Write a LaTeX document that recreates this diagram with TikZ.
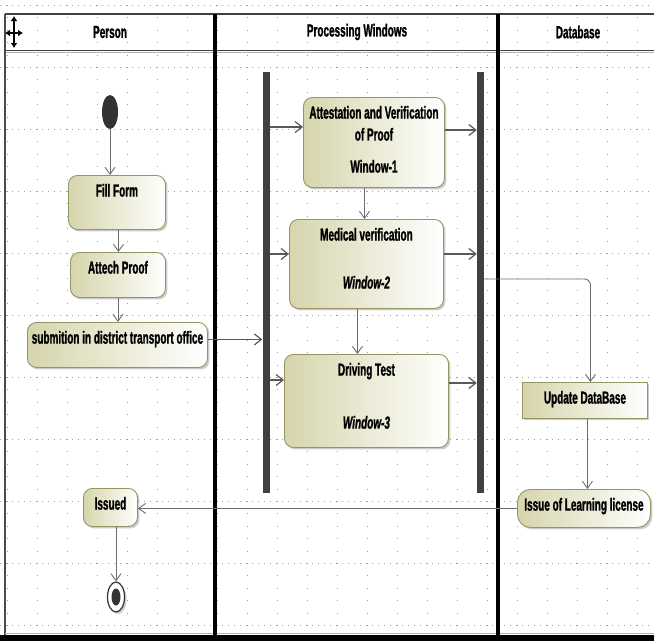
\documentclass[tikz,border=0pt]{standalone}
\usepackage{fontspec}
\newfontfamily\labfont[FakeStretch=0.57,FakeBold=1.2]{Liberation Sans}
\usetikzlibrary{arrows.meta,shadows,shapes.geometric,calc}
\definecolor{actfill}{RGB}{214,213,172}
\definecolor{actline}{RGB}{150,148,100}
\definecolor{bargray}{RGB}{64,64,64}
\definecolor{gridgray}{RGB}{160,160,160}
\definecolor{flowgray}{RGB}{110,110,110}
\newcommand\lbl{\labfont\bfseries\fontsize{17.5}{19}\selectfont}
\newcommand\tbox[3]{\parbox[c][#2pt][t]{#1pt}{\centering\lbl\vspace*{8.5pt}#3\par}}
\tikzset{
  act/.style={draw=actline, line width=0.9pt, left color=actfill, right color=white,
    rounded corners=9pt, inner sep=0pt, anchor=north west,
    drop shadow={shadow xshift=2pt, shadow yshift=-2pt, fill=black!40, opacity=0.5}},
  barnode/.style={fill=bargray, draw=none, inner sep=0pt, minimum width=7pt, minimum height=421pt},
  hdr/.style={font=\lbl, inner sep=1pt},
  arr/.style={draw=flowgray, line width=0.9pt, -{Straight Barb[length=7pt,width=10pt]}},
  barr/.style={draw=black!65, line width=1.8pt, -{Straight Barb[length=7pt,width=11pt,line width=1.2pt]}},
  hgrid/.style={draw=gridgray, line width=0.6pt, dash pattern=on 0.8pt off 5.2pt},
  vgrid/.style={draw=gridgray, line width=0.7pt, dash pattern=on 1pt off 11.4pt},
}
\begin{document}
\begin{tikzpicture}[x=1pt,y=-1pt]
\useasboundingbox (0,0) rectangle (654,641);
% grid
\foreach \k in {0,...,10} \draw[hgrid] (0,{5+62*\k}) -- (654,{5+62*\k});
\foreach \k in {0,...,21} \draw[vgrid] ({7+30*\k},5) -- ({7+30*\k},635);
% swimlane frame
\draw[line width=1.5pt, black!75] (5,14) -- (654,14);
\draw[line width=1.5pt, black!75] (5,50.5) -- (654,50.5);
\draw[line width=0.8pt, black!30] (5,52.5) -- (654,52.5);
\draw[line width=1.5pt, black!70] (5,14) -- (5,635);
\draw[line width=0.8pt, black!30] (5,633) -- (654,633);
\draw[line width=4pt] (215,14) -- (215,637);
\draw[line width=4pt] (498,14) -- (498,637);
\fill (0,635) rectangle (654,641);
% move icon
\draw[line width=2pt, {Latex[length=5pt,width=7pt]}-{Latex[length=5pt,width=7pt]}] (14,16) -- (14,48);
\draw[line width=2pt, {Latex[length=5pt,width=7pt]}-{Latex[length=5pt,width=7pt]}] (5,33) -- (23,33);
% headers
\node[hdr] (hperson) at (110,32) {Person};
\node[hdr] (hproc) at (357,32) {Processing Windows};
\node[hdr] (hdb) at (578,32) {Database};
% nodes
\node[ellipse, fill=black!80, minimum width=16pt, minimum height=34pt, inner sep=0pt] (init) at (110,112) {};
\node[act] (ff) at (68,175) {\tbox{97}{54}{Fill Form}};
\node[act] (ap) at (70,252) {\tbox{95}{45}{Attech Proof}};
\node[act] (sub) at (27,322) {\tbox{180}{45}{submition in district transport office}};
\node[barnode] (fork) at (266,282.5) {};
\node[barnode] (join) at (480.5,282.5) {};
\node[act] (att) at (303,97) {\tbox{141}{90}{Attestation and Verification\\[3pt]of Proof\\[13pt]Window-1}};
\node[act] (med) at (289,219) {\tbox{154}{89}{Medical verification\\[29pt]\textit{Window-2}}};
\node[act] (drv) at (284,354) {\tbox{164}{93}{Driving Test\\[34pt]\textit{Window-3}}};
\node[act, rounded corners=0pt] (upd) at (522,382) {\tbox{125}{36}{Update DataBase}};
\node[act, rounded corners=13pt] (iss) at (517,489) {\tbox{133}{38}{Issue of Learning license}};
\node[act] (isd) at (83,488) {\tbox{54}{38}{Issued}};
\node[ellipse, draw=black!80, line width=1.2pt, fill=white, minimum width=17pt, minimum height=30pt, inner sep=0pt,
  drop shadow={shadow xshift=2pt, shadow yshift=-2pt, fill=black!40, opacity=0.5}] (fin) at (116,597) {};
\node[ellipse, fill=black!80, minimum width=9pt, minimum height=17pt, inner sep=0pt] (finin) at (fin) {};
% attachment points
\coordinate (attin) at ([yshift=-30pt]att.north west);
\coordinate (attout) at ([yshift=-33pt]att.north east);
\coordinate (medin) at ([yshift=-35pt]med.north west);
\coordinate (medout) at ([yshift=-35pt]med.north east);
\coordinate (drvin) at ([yshift=-26pt]drv.north west);
\coordinate (drvout) at ([yshift=-29pt]drv.north east);
% connectors
\draw[arr] (init) -- (init |- ff.north);
\draw[arr] ([xshift=1.5pt]ff.south) -- ([xshift=1.5pt]ff.south |- ap.north);
\draw[arr] (ap.south) -- (ap.south |- sub.north);
\draw[barr] ([yshift=5.5pt]sub.east) -- ([yshift=5.5pt]sub.east -| fork.west);
\draw[barr] (fork.east |- attin) -- (attin);
\draw[barr] (attout) -- (attout -| join.west);
\draw[barr] (fork.east |- medin) -- (medin);
\draw[barr] (medout) -- (medout -| join.west);
\draw[barr] (fork.east |- drvin) -- (drvin);
\draw[barr] (drvout) -- (drvout -| join.west);
\draw[arr] ([xshift=-9.5pt]att.south) -- ([xshift=-9.5pt]att.south |- med.north);
\draw[arr] ([xshift=-9pt]med.south) -- ([xshift=-9pt]med.south |- drv.north);
\draw[arr, rounded corners=6pt] ([yshift=3.5pt]join.east) -| ([xshift=5.5pt]upd.north);
\draw[arr] ([xshift=2.5pt]upd.south) -- ([xshift=2.5pt]upd.south |- iss.north);
\draw[arr] (iss.west) -- (iss.west -| isd.east);
\draw[arr] (fin |- isd.south) -- (fin.north);
\end{tikzpicture}
\end{document}
